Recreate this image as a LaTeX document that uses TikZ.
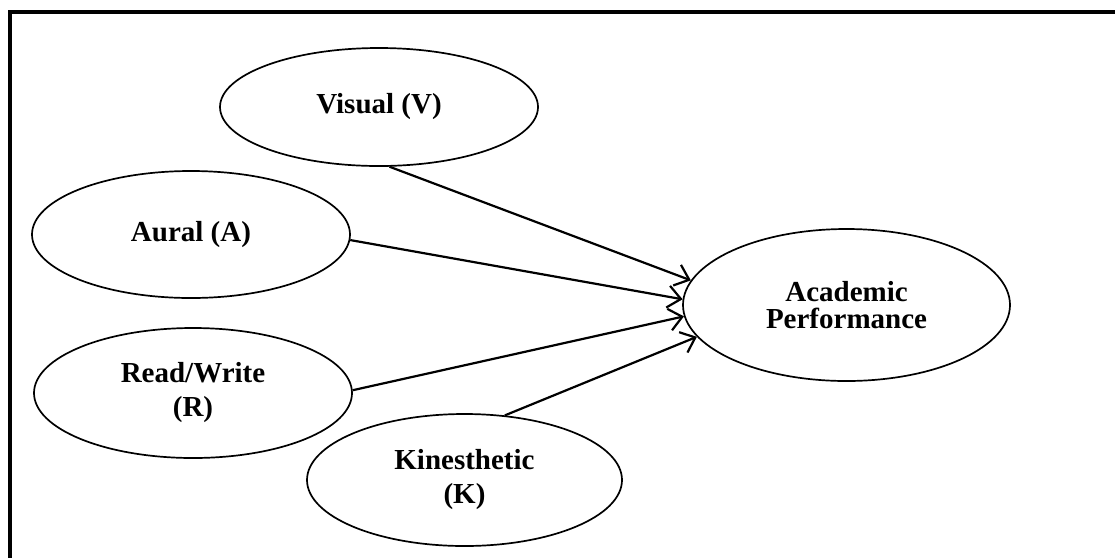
\documentclass[tikz,border=0pt]{standalone}
\usepackage{fontspec}
\setmainfont{Liberation Serif}
\usetikzlibrary{shapes.geometric,arrows.meta}

\tikzset{
  style bubble/.style={ellipse, draw, line width=1.7pt, inner sep=0pt,
    align=center, font=\bfseries\fontsize{29}{34}\selectfont},
  link/.style={line width=2.2pt,
    -{Straight Barb[length=13pt,width=22pt,line width=2.2pt]}},
  frame line/.style={line width=4pt}
}

\begin{document}
\begin{tikzpicture}[x=1pt,y=-1pt]
  \useasboundingbox (0,0) rectangle (1115,558);

  % outer frame (top and left edges)
  \coordinate (frameTR) at (1115,12);
  \coordinate (frameTL) at (10,12);
  \coordinate (frameBL) at (10,558);
  \draw[frame line] (frameTR) -- (frameTL) -- (frameBL);

  % learning-style constructs
  \node[style bubble, minimum width=318pt, minimum height=118pt] (V) at (379,107) {Visual (V)};
  \node[style bubble, minimum width=318pt, minimum height=127pt] (A) at (191,234.5) {Aural (A)};
  \node[style bubble, minimum width=318pt, minimum height=130pt] (R) at (193,393) {Read/Write\\(R)};
  \node[style bubble, minimum width=315pt, minimum height=132pt] (K) at (464.5,480) {Kinesthetic\\(K)};

  % outcome construct
  \node[style bubble, font=\bfseries\fontsize{29}{27}\selectfont,
        minimum width=327pt, minimum height=152pt] (P) at (846.5,305) {Academic\\Performance};

  % paths into the outcome
  \draw[link] (V.-80) -- (P.171);
  \draw[link] (A.-2) -- (P.178);
  \draw[link] (R.1) -- (P.184);
  \draw[link] (K.58) -- (P.192);
\end{tikzpicture}
\end{document}
